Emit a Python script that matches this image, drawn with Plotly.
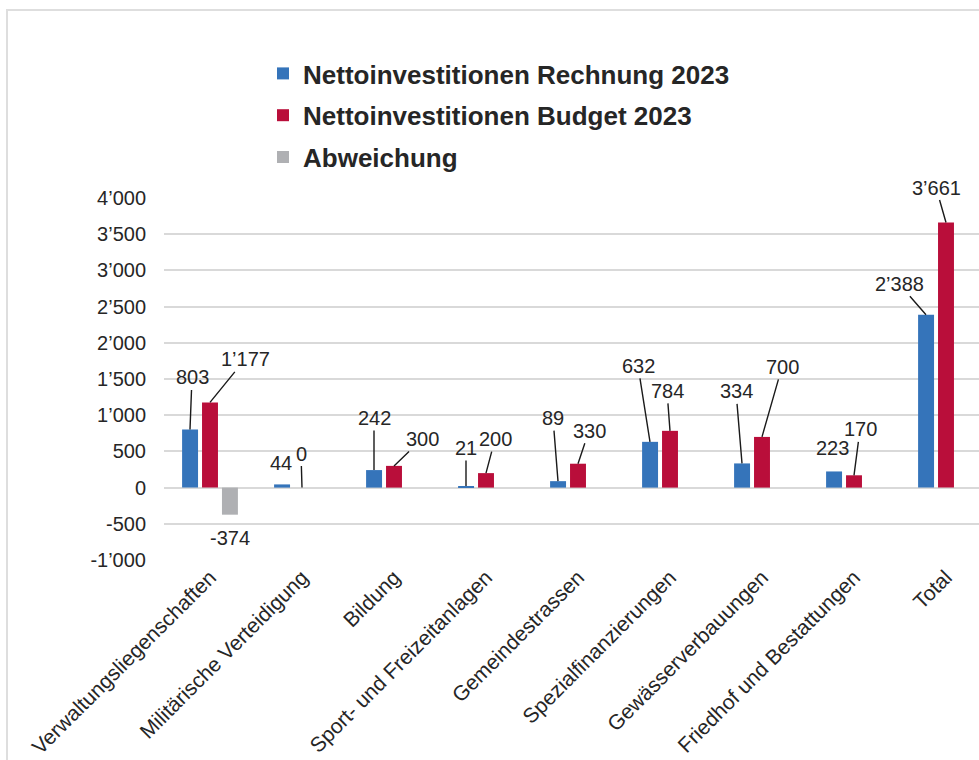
import plotly.graph_objects as go

categories = [
    "Verwaltungsliegenschaften",
    "Militärische Verteidigung",
    "Bildung",
    "Sport- und Freizeitanlagen",
    "Gemeindestrassen",
    "Spezialfinanzierungen",
    "Gewässerverbauungen",
    "Friedhof und Bestattungen",
    "Total",
]
rechnung_2023 = [803, 44, 242, 21, 89, 632, 334, 223, 2388]
budget_2023 = [1177, 0, 300, 200, 330, 784, 700, 170, 3661]
abweichung = [-374, None, None, None, None, None, None, None, None]
series_names = [
    "Nettoinvestitionen Rechnung 2023",
    "Nettoinvestitionen Budget 2023",
    "Abweichung",
]
y_ticks = [-1000, -500, 0, 500, 1000, 1500, 2000, 2500, 3000, 3500, 4000]


def fmt(v):
    return f"{v:,}".replace(",", "\u2019")


# styling / label placement (pixel offsets of label centre from bar end)
colors = ["#3574ba", "#b90e3a", "#afb0b3"]
FONT = "Liberation Sans, Arial, sans-serif"
TXT = "#262626"
slot_shift = [-20, 0, 20]
label_offsets = [
    [(2, -52), (-1, -21, False), (0, -52), (0, -38), (-5, -63), (-12, -76), (-6, -72), (-2, -23, False), (-27, -31)],
    [(35, -43), (-1, -34), (28, -27), (9, -34), (11, -33), (-3, -40), (20, -70), (6, -46), (-10, -35)],
    [(0, 23, False)] + [None] * 8,
]

fig = go.Figure()
all_series = [rechnung_2023, budget_2023, abweichung]
for i, (name, vals) in enumerate(zip(series_names, all_series)):
    fig.add_trace(go.Bar(
        x=categories, y=vals, name=name,
        marker=dict(color=colors[i], line=dict(width=0)),
        legendgroup=f"g{i}",
    ))

annotations = []
for s, vals in enumerate(all_series):
    for c, v in enumerate(vals):
        if v is None:
            continue
        off = label_offsets[s][c]
        if off is None:
            continue
        arrow = len(off) < 3 or off[2]
        base = dict(x=categories[c], y=v, xref="x", yref="y", text=fmt(v),
                    font=dict(family=FONT, size=20, color=TXT), xshift=slot_shift[s])
        if arrow:
            base.update(showarrow=True, arrowhead=0, arrowwidth=1.4, arrowcolor="#1a1a1a",
                        ax=off[0], ay=off[1], axref="pixel", ayref="pixel", standoff=0)
        else:
            base.update(showarrow=False, xshift=slot_shift[s] + off[0], yshift=-off[1])
        annotations.append(base)

L, R, T, B = 164, 0, 198, 200
W, H = 979, 760
pw = W - L - R
ph = H - T - B
cat_px = 92

fig.update_layout(
    width=W, height=H,
    margin=dict(l=L, r=R, t=T, b=B, autoexpand=False),
    paper_bgcolor="white", plot_bgcolor="white",
    barmode="group", bargap=0.35, bargroupgap=0.2,
    font=dict(family=FONT, size=20, color=TXT),
    showlegend=True,
    legend=dict(
        x=(263 - L) / pw, y=(H - B - 50) / ph, xanchor="left", yanchor="top",
        orientation="v", traceorder="grouped", tracegroupgap=5,
        font=dict(family=FONT, size=26, color=TXT, weight="bold"),
        bgcolor="rgba(0,0,0,0)",
    ),
    xaxis=dict(
        range=[-0.5, -0.5 + pw / cat_px], tickangle=-45, showgrid=False,
        showline=False, ticks="", automargin=False,
        tickfont=dict(family=FONT, size=21, color=TXT),
    ),
    yaxis=dict(
        range=[-1000, 4000], tickvals=y_ticks, ticktext=[fmt(t) for t in y_ticks],
        showgrid=True, gridcolor="#d9d9d9", gridwidth=1.6,
        zeroline=True, zerolinecolor="#d9d9d9", zerolinewidth=1.6,
        showline=False, ticks="", automargin=False, ticklabelstandoff=17,
        tickfont=dict(family=FONT, size=20, color=TXT),
    ),
    annotations=annotations,
    shapes=[dict(
        type="rect", xref="paper", yref="paper",
        x0=(7 - L) / pw, x1=1.2, y0=-1.0, y1=(H - B - 10) / ph,
        line=dict(color="#dedede", width=2), fillcolor="rgba(0,0,0,0)", layer="below",
    )],
)

fig.write_html("out.html")
